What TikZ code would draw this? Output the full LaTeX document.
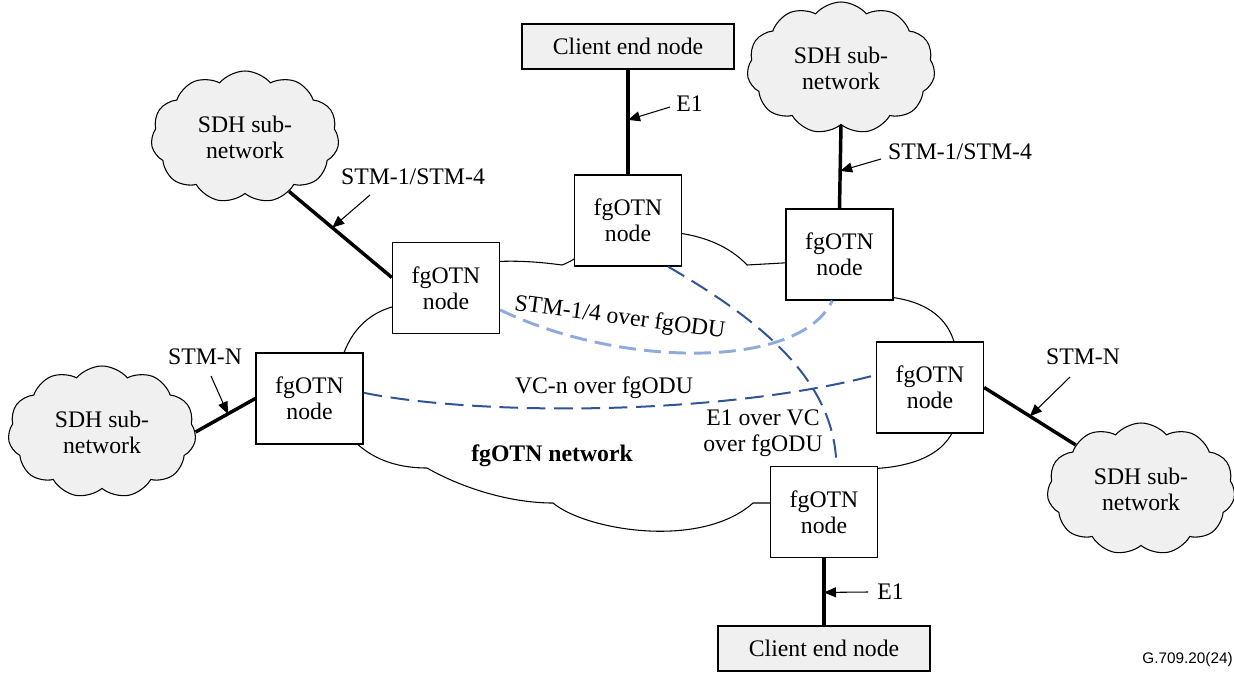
\documentclass[tikz,border=0pt]{standalone}
\usepackage{fontspec}
\setmainfont{Liberation Serif}
\newfontfamily\tagfont{Liberation Sans}
\usetikzlibrary{shapes.symbols,arrows.meta}

\definecolor{cloudgray}{RGB}{240,240,240}
\definecolor{pathlight}{RGB}{143,170,220}
\definecolor{pathdark}{RGB}{47,85,151}

\begin{document}
\begin{tikzpicture}[x=0.75pt,y=-0.75pt,
  every node/.style={font=\fontsize{17.8}{19.5}\selectfont},
  otn/.style={draw, line width=1pt, fill=white, minimum width=80.25pt,
    minimum height=68.25pt, align=center, inner sep=0pt},
  client/.style={draw, line width=1pt, fill=cloudgray, minimum width=159pt,
    minimum height=33.75pt, inner sep=0pt},
  sdh/.style={cloud, cloud puffs=11, cloud puff arc=100, draw, line width=0.8pt,
    fill=cloudgray, cloud ignores aspect, minimum width=141pt, minimum height=99pt,
    align=center, inner sep=0pt},
  link/.style={line width=2.6pt},
  callout/.style={line width=0.8pt, -{Triangle[length=9pt,width=7.5pt]}},
  lightpath/.style={pathlight, line width=2.2pt, dash pattern=on 12.75pt off 6pt},
  darkpath/.style={pathdark, line width=1.5pt, dash pattern=on 14pt off 6.5pt},
  lbl/.style={inner sep=0pt}
]
\useasboundingbox (0,0) rectangle (1234,672);

% fgOTN network cloud outline (hidden parts run inside the node boxes)
\draw[line width=0.8pt]
  (345,430) .. controls (365,458) and (395,468) .. (427,468)
  .. controls (462,488) and (510,503) .. (553,503)
  .. controls (585,530) and (700,550) .. (753,503)
  -- (800,503) -- (860,469)
  .. controls (920,469) and (950,450) .. (957,420)
  -- (957,360)
  .. controls (955,315) and (920,296) .. (870,296)
  -- (800,262) -- (747,265)
  .. controls (735,252) and (712,236) .. (670,232)
  -- (590,248)
  .. controls (580,256) and (570,262) .. (562,265)
  .. controls (540,262) and (515,260) .. (490,262)
  -- (400,305)
  .. controls (365,312) and (348,335) .. (340,365)
  -- cycle;

% SDH sub-networks
\node[sdh] (sdhTL) at (245,137) {SDH sub-\\network};
\node[sdh] (sdhTR) at (841,68) {SDH sub-\\network};
\node[sdh] (sdhL) at (102,432) {SDH sub-\\network};
\node[sdh] (sdhR) at (1141,489) {SDH sub-\\network};

% client end nodes
\node[client] (cliTop) at (628,46.5) {Client end node};
\node[client] (cliBot) at (824,648.5) {Client end node};

% fgOTN nodes
\node[otn] (otnA) at (446,288) {fgOTN\\node};
\node[otn] (otnB) at (309.5,398.5) {fgOTN\\node};
\node[otn] (otnC) at (628,220.5) {fgOTN\\node};
\node[otn] (otnD) at (839.5,254.5) {fgOTN\\node};
\node[otn] (otnF) at (930,387.5) {fgOTN\\node};
\node[otn] (otnE) at (824,512) {fgOTN\\node};

% client links
\draw[link] (cliTop.south) -- coordinate[pos=0.48] (tipE1a) (otnC.north);
\draw[link] (sdhTR.south) -- coordinate[pos=0.55] (tipSTMb) (otnD.north);
\draw[link] (otnE.south) -- coordinate[pos=0.51] (tipE1b) (cliBot.north);
\draw[link] (sdhTL.-51) -- coordinate[pos=0.42] (tipSTMa) (otnA.169);
\draw[link] (sdhL.east) -- coordinate[pos=0.54] (tipSTMc) (otnB.west);
\draw[link] (otnF.east) -- coordinate[pos=0.5] (tipSTMd) (sdhR.146);

% end-to-end paths
\draw[lightpath] (otnA.-22.5) .. controls (620,368) and (800,370) .. (otnD.-99);
\draw[darkpath] (otnB.6.9) .. controls (480,416) and (720,416) .. (otnF.167.8);
\draw[darkpath] (otnC.-49) .. controls (760,320) and (835,380) .. (otnE.75.7);

% link labels and call-outs
\node[lbl, anchor=west] (lE1a) at (676,104) {E1};
\coordinate (tailE1a) at (670,107);
\draw[callout] (tailE1a) -- (tipE1a);

\node[lbl] (lSTMa) at (413,177) {STM-1/STM-4};
\coordinate (tailSTMa) at (370,195);
\draw[callout] (tailSTMa) -- (tipSTMa);

\node[lbl] (lSTMb) at (960,152) {STM-1/STM-4};
\coordinate (tailSTMb) at (881,159);
\draw[callout] (tailSTMb) -- (tipSTMb);

\node[lbl] (lSTMc) at (205,357) {STM-N};
\coordinate (tailSTMc) at (211,376);
\draw[callout] (tailSTMc) -- (tipSTMc);

\node[lbl] (lSTMd) at (1083,357) {STM-N};
\coordinate (tailSTMd) at (1070,377);
\draw[callout] (tailSTMd) -- (tipSTMd);

\node[lbl, anchor=west] (lE1b) at (877,592) {E1};
\coordinate (tailE1b) at (868,592);
\draw[callout] (tailE1b) -- (tipE1b);

% path labels
\node[lbl, anchor=base, rotate=-7.5] (tLight) at (619,324) {STM-1/4 over fgODU};
\node[lbl] (tVC) at (604,388) {VC-n over fgODU};
\node[lbl, align=center] (tE1) at (763,433) {E1 over VC\\over fgODU};
\node[lbl, font=\fontsize{17.8}{19.5}\selectfont\bfseries] (tNet) at (552,456) {fgOTN network};

% figure tag
\node[lbl, anchor=east, font=\tagfont\fontsize{11.5}{13}\selectfont] (tag) at (1233,660) {G.709.20(24)};
\end{tikzpicture}
\end{document}
